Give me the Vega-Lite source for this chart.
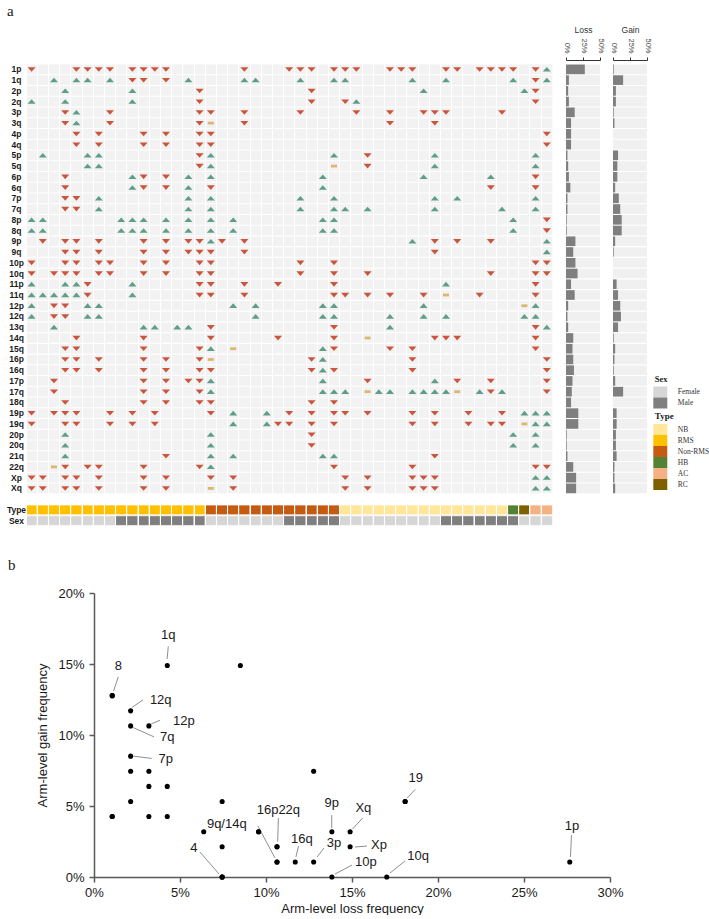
{
  "$schema": "https://vega.github.io/schema/vega-lite/v6.json",
  "padding": {"left": 6, "top": 4, "right": 0, "bottom": 0},
  "config": {
    "view": {"stroke": null},
    "font": "Liberation Sans",
    "legend": {
      "symbolType": "M-1.27,-1H1.27V1H-1.27Z",
      "symbolSize": 121,
      "symbolStrokeWidth": 0,
      "symbolOpacity": 1,
      "labelFont": "Liberation Serif",
      "labelFontSize": 7.5,
      "labelColor": "#333333",
      "titleFont": "Liberation Serif",
      "titleFontSize": 8.5,
      "titleFontWeight": "bold",
      "titleColor": "#1a1a1a",
      "rowPadding": 0,
      "labelOffset": 12,
      "titlePadding": 3,
      "padding": 0
    }
  },
  "datasets": {
    "armFreq": [
      {"arm":"1p","loss":0.2766,"gain":0.0106},
      {"arm":"1q","loss":0.0426,"gain":0.1489},
      {"arm":"2p","loss":0.0319,"gain":0.0426},
      {"arm":"2q","loss":0.0426,"gain":0.0426},
      {"arm":"3p","loss":0.1277,"gain":0.0106},
      {"arm":"3q","loss":0.0745,"gain":0.0213},
      {"arm":"4p","loss":0.0745,"gain":0},
      {"arm":"4q","loss":0.0745,"gain":0},
      {"arm":"5p","loss":0.0213,"gain":0.0745},
      {"arm":"5q","loss":0.0319,"gain":0.0638},
      {"arm":"6p","loss":0.0426,"gain":0.0638},
      {"arm":"6q","loss":0.0638,"gain":0.0319},
      {"arm":"7p","loss":0.0213,"gain":0.0851},
      {"arm":"7q","loss":0.0213,"gain":0.1064},
      {"arm":"8p","loss":0.0106,"gain":0.1277},
      {"arm":"8q","loss":0.0106,"gain":0.1277},
      {"arm":"9p","loss":0.1383,"gain":0.0319},
      {"arm":"9q","loss":0.1064,"gain":0.0106},
      {"arm":"10p","loss":0.1383,"gain":0},
      {"arm":"10q","loss":0.1702,"gain":0},
      {"arm":"11p","loss":0.0745,"gain":0.0532},
      {"arm":"11q","loss":0.1277,"gain":0.0745},
      {"arm":"12p","loss":0.0319,"gain":0.1064},
      {"arm":"12q","loss":0.0213,"gain":0.1170},
      {"arm":"13q","loss":0.0319,"gain":0.0745},
      {"arm":"14q","loss":0.1064,"gain":0.0106},
      {"arm":"15q","loss":0.0957,"gain":0.0319},
      {"arm":"16p","loss":0.1064,"gain":0.0213},
      {"arm":"16q","loss":0.1170,"gain":0.0106},
      {"arm":"17p","loss":0.0957,"gain":0.0319},
      {"arm":"17q","loss":0.0851,"gain":0.1489},
      {"arm":"18q","loss":0.0745,"gain":0},
      {"arm":"19p","loss":0.1809,"gain":0.0532},
      {"arm":"19q","loss":0.1809,"gain":0.0532},
      {"arm":"20p","loss":0.0106,"gain":0.0426},
      {"arm":"20q","loss":0.0106,"gain":0.0426},
      {"arm":"21q","loss":0.0213,"gain":0.0532},
      {"arm":"22q","loss":0.1064,"gain":0.0213},
      {"arm":"Xp","loss":0.1489,"gain":0.0213},
      {"arm":"Xq","loss":0.1489,"gain":0.0319}
    ],
    "tracks": [
      {"sample":0,"track":"Type","group":"RMS"},{"sample":1,"track":"Type","group":"RMS"},{"sample":2,"track":"Type","group":"RMS"},{"sample":3,"track":"Type","group":"RMS"},
      {"sample":4,"track":"Type","group":"RMS"},{"sample":5,"track":"Type","group":"RMS"},{"sample":6,"track":"Type","group":"RMS"},{"sample":7,"track":"Type","group":"RMS"},
      {"sample":8,"track":"Type","group":"RMS"},{"sample":9,"track":"Type","group":"RMS"},{"sample":10,"track":"Type","group":"RMS"},{"sample":11,"track":"Type","group":"RMS"},
      {"sample":12,"track":"Type","group":"RMS"},{"sample":13,"track":"Type","group":"RMS"},{"sample":14,"track":"Type","group":"RMS"},{"sample":15,"track":"Type","group":"RMS"},
      {"sample":16,"track":"Type","group":"Non-RMS"},{"sample":17,"track":"Type","group":"Non-RMS"},{"sample":18,"track":"Type","group":"Non-RMS"},{"sample":19,"track":"Type","group":"Non-RMS"},
      {"sample":20,"track":"Type","group":"Non-RMS"},{"sample":21,"track":"Type","group":"Non-RMS"},{"sample":22,"track":"Type","group":"Non-RMS"},{"sample":23,"track":"Type","group":"Non-RMS"},
      {"sample":24,"track":"Type","group":"Non-RMS"},{"sample":25,"track":"Type","group":"Non-RMS"},{"sample":26,"track":"Type","group":"Non-RMS"},{"sample":27,"track":"Type","group":"Non-RMS"},
      {"sample":28,"track":"Type","group":"NB"},{"sample":29,"track":"Type","group":"NB"},{"sample":30,"track":"Type","group":"NB"},{"sample":31,"track":"Type","group":"NB"},
      {"sample":32,"track":"Type","group":"NB"},{"sample":33,"track":"Type","group":"NB"},{"sample":34,"track":"Type","group":"NB"},{"sample":35,"track":"Type","group":"NB"},
      {"sample":36,"track":"Type","group":"NB"},{"sample":37,"track":"Type","group":"NB"},{"sample":38,"track":"Type","group":"NB"},{"sample":39,"track":"Type","group":"NB"},
      {"sample":40,"track":"Type","group":"NB"},{"sample":41,"track":"Type","group":"NB"},{"sample":42,"track":"Type","group":"NB"},{"sample":43,"track":"Type","group":"HB"},
      {"sample":44,"track":"Type","group":"RC"},{"sample":45,"track":"Type","group":"AC"},{"sample":46,"track":"Type","group":"AC"},
      {"sample":0,"track":"Sex","group":"Female"},{"sample":1,"track":"Sex","group":"Female"},{"sample":2,"track":"Sex","group":"Female"},{"sample":3,"track":"Sex","group":"Female"},
      {"sample":4,"track":"Sex","group":"Female"},{"sample":5,"track":"Sex","group":"Female"},{"sample":6,"track":"Sex","group":"Female"},{"sample":7,"track":"Sex","group":"Female"},
      {"sample":8,"track":"Sex","group":"Male"},{"sample":9,"track":"Sex","group":"Male"},{"sample":10,"track":"Sex","group":"Male"},{"sample":11,"track":"Sex","group":"Male"},
      {"sample":12,"track":"Sex","group":"Male"},{"sample":13,"track":"Sex","group":"Male"},{"sample":14,"track":"Sex","group":"Male"},{"sample":15,"track":"Sex","group":"Male"},
      {"sample":16,"track":"Sex","group":"Female"},{"sample":17,"track":"Sex","group":"Female"},{"sample":18,"track":"Sex","group":"Female"},{"sample":19,"track":"Sex","group":"Female"},
      {"sample":20,"track":"Sex","group":"Female"},{"sample":21,"track":"Sex","group":"Female"},{"sample":22,"track":"Sex","group":"Female"},{"sample":23,"track":"Sex","group":"Male"},
      {"sample":24,"track":"Sex","group":"Male"},{"sample":25,"track":"Sex","group":"Male"},{"sample":26,"track":"Sex","group":"Male"},{"sample":27,"track":"Sex","group":"Male"},
      {"sample":28,"track":"Sex","group":"Female"},{"sample":29,"track":"Sex","group":"Female"},{"sample":30,"track":"Sex","group":"Female"},{"sample":31,"track":"Sex","group":"Female"},
      {"sample":32,"track":"Sex","group":"Female"},{"sample":33,"track":"Sex","group":"Female"},{"sample":34,"track":"Sex","group":"Female"},{"sample":35,"track":"Sex","group":"Female"},
      {"sample":36,"track":"Sex","group":"Female"},{"sample":37,"track":"Sex","group":"Male"},{"sample":38,"track":"Sex","group":"Male"},{"sample":39,"track":"Sex","group":"Male"},
      {"sample":40,"track":"Sex","group":"Male"},{"sample":41,"track":"Sex","group":"Male"},{"sample":42,"track":"Sex","group":"Male"},{"sample":43,"track":"Sex","group":"Male"},
      {"sample":44,"track":"Sex","group":"Female"},{"sample":45,"track":"Sex","group":"Female"},{"sample":46,"track":"Sex","group":"Female"}
    ],
    "calls": [
      {"sample":0,"arm":"1p","call":"loss"},{"sample":4,"arm":"1p","call":"loss"},{"sample":5,"arm":"1p","call":"loss"},{"sample":6,"arm":"1p","call":"loss"},{"sample":7,"arm":"1p","call":"loss"},{"sample":9,"arm":"1p","call":"loss"},{"sample":10,"arm":"1p","call":"loss"},{"sample":11,"arm":"1p","call":"loss"},{"sample":12,"arm":"1p","call":"loss"},{"sample":19,"arm":"1p","call":"loss"},{"sample":23,"arm":"1p","call":"loss"},{"sample":24,"arm":"1p","call":"loss"},{"sample":25,"arm":"1p","call":"loss"},{"sample":27,"arm":"1p","call":"loss"},{"sample":28,"arm":"1p","call":"loss"},{"sample":29,"arm":"1p","call":"loss"},{"sample":32,"arm":"1p","call":"loss"},{"sample":33,"arm":"1p","call":"loss"},{"sample":34,"arm":"1p","call":"loss"},{"sample":37,"arm":"1p","call":"loss"},{"sample":38,"arm":"1p","call":"loss"},{"sample":40,"arm":"1p","call":"loss"},{"sample":41,"arm":"1p","call":"loss"},{"sample":42,"arm":"1p","call":"loss"},{"sample":43,"arm":"1p","call":"loss"},{"sample":45,"arm":"1p","call":"loss"},{"sample":46,"arm":"1p","call":"gain"},
      {"sample":9,"arm":"1q","call":"loss"},{"sample":10,"arm":"1q","call":"loss"},{"sample":12,"arm":"1q","call":"loss"},{"sample":45,"arm":"1q","call":"loss"},{"sample":2,"arm":"1q","call":"gain"},{"sample":4,"arm":"1q","call":"gain"},{"sample":5,"arm":"1q","call":"gain"},{"sample":7,"arm":"1q","call":"gain"},{"sample":14,"arm":"1q","call":"gain"},{"sample":19,"arm":"1q","call":"gain"},{"sample":20,"arm":"1q","call":"gain"},{"sample":24,"arm":"1q","call":"gain"},{"sample":27,"arm":"1q","call":"gain"},{"sample":28,"arm":"1q","call":"gain"},{"sample":34,"arm":"1q","call":"gain"},{"sample":37,"arm":"1q","call":"gain"},{"sample":43,"arm":"1q","call":"gain"},{"sample":46,"arm":"1q","call":"gain"},
      {"sample":15,"arm":"2p","call":"loss"},{"sample":25,"arm":"2p","call":"loss"},{"sample":45,"arm":"2p","call":"loss"},{"sample":3,"arm":"2p","call":"gain"},{"sample":9,"arm":"2p","call":"gain"},{"sample":35,"arm":"2p","call":"gain"},{"sample":44,"arm":"2p","call":"gain"},
      {"sample":15,"arm":"2q","call":"loss"},{"sample":25,"arm":"2q","call":"loss"},{"sample":28,"arm":"2q","call":"loss"},{"sample":45,"arm":"2q","call":"loss"},{"sample":0,"arm":"2q","call":"gain"},{"sample":3,"arm":"2q","call":"gain"},{"sample":9,"arm":"2q","call":"gain"},{"sample":29,"arm":"2q","call":"gain"},
      {"sample":3,"arm":"3p","call":"loss"},{"sample":7,"arm":"3p","call":"loss"},{"sample":15,"arm":"3p","call":"loss"},{"sample":16,"arm":"3p","call":"loss"},{"sample":19,"arm":"3p","call":"loss"},{"sample":24,"arm":"3p","call":"loss"},{"sample":29,"arm":"3p","call":"loss"},{"sample":32,"arm":"3p","call":"loss"},{"sample":35,"arm":"3p","call":"loss"},{"sample":36,"arm":"3p","call":"loss"},{"sample":37,"arm":"3p","call":"loss"},{"sample":42,"arm":"3p","call":"loss"},{"sample":4,"arm":"3p","call":"gain"},
      {"sample":3,"arm":"3q","call":"loss"},{"sample":7,"arm":"3q","call":"loss"},{"sample":15,"arm":"3q","call":"loss"},{"sample":19,"arm":"3q","call":"loss"},{"sample":32,"arm":"3q","call":"loss"},{"sample":36,"arm":"3q","call":"loss"},{"sample":4,"arm":"3q","call":"gain"},{"sample":16,"arm":"3q","call":"both"},
      {"sample":4,"arm":"4p","call":"loss"},{"sample":6,"arm":"4p","call":"loss"},{"sample":10,"arm":"4p","call":"loss"},{"sample":12,"arm":"4p","call":"loss"},{"sample":15,"arm":"4p","call":"loss"},{"sample":16,"arm":"4p","call":"loss"},{"sample":46,"arm":"4p","call":"loss"},
      {"sample":4,"arm":"4q","call":"loss"},{"sample":6,"arm":"4q","call":"loss"},{"sample":10,"arm":"4q","call":"loss"},{"sample":12,"arm":"4q","call":"loss"},{"sample":15,"arm":"4q","call":"loss"},{"sample":16,"arm":"4q","call":"loss"},{"sample":46,"arm":"4q","call":"loss"},
      {"sample":15,"arm":"5p","call":"loss"},{"sample":30,"arm":"5p","call":"loss"},{"sample":1,"arm":"5p","call":"gain"},{"sample":5,"arm":"5p","call":"gain"},{"sample":6,"arm":"5p","call":"gain"},{"sample":16,"arm":"5p","call":"gain"},{"sample":27,"arm":"5p","call":"gain"},{"sample":36,"arm":"5p","call":"gain"},{"sample":45,"arm":"5p","call":"gain"},
      {"sample":15,"arm":"5q","call":"loss"},{"sample":30,"arm":"5q","call":"loss"},{"sample":5,"arm":"5q","call":"gain"},{"sample":6,"arm":"5q","call":"gain"},{"sample":16,"arm":"5q","call":"gain"},{"sample":36,"arm":"5q","call":"gain"},{"sample":45,"arm":"5q","call":"gain"},{"sample":27,"arm":"5q","call":"both"},
      {"sample":3,"arm":"6p","call":"loss"},{"sample":10,"arm":"6p","call":"loss"},{"sample":12,"arm":"6p","call":"loss"},{"sample":45,"arm":"6p","call":"loss"},{"sample":9,"arm":"6p","call":"gain"},{"sample":14,"arm":"6p","call":"gain"},{"sample":16,"arm":"6p","call":"gain"},{"sample":26,"arm":"6p","call":"gain"},{"sample":35,"arm":"6p","call":"gain"},{"sample":41,"arm":"6p","call":"gain"},
      {"sample":3,"arm":"6q","call":"loss"},{"sample":10,"arm":"6q","call":"loss"},{"sample":12,"arm":"6q","call":"loss"},{"sample":16,"arm":"6q","call":"loss"},{"sample":41,"arm":"6q","call":"loss"},{"sample":45,"arm":"6q","call":"loss"},{"sample":9,"arm":"6q","call":"gain"},{"sample":14,"arm":"6q","call":"gain"},{"sample":26,"arm":"6q","call":"gain"},
      {"sample":3,"arm":"7p","call":"loss"},{"sample":4,"arm":"7p","call":"loss"},{"sample":6,"arm":"7p","call":"gain"},{"sample":14,"arm":"7p","call":"gain"},{"sample":16,"arm":"7p","call":"gain"},{"sample":24,"arm":"7p","call":"gain"},{"sample":27,"arm":"7p","call":"gain"},{"sample":36,"arm":"7p","call":"gain"},{"sample":38,"arm":"7p","call":"gain"},{"sample":45,"arm":"7p","call":"gain"},
      {"sample":3,"arm":"7q","call":"loss"},{"sample":4,"arm":"7q","call":"loss"},{"sample":6,"arm":"7q","call":"gain"},{"sample":14,"arm":"7q","call":"gain"},{"sample":16,"arm":"7q","call":"gain"},{"sample":24,"arm":"7q","call":"gain"},{"sample":27,"arm":"7q","call":"gain"},{"sample":28,"arm":"7q","call":"gain"},{"sample":30,"arm":"7q","call":"gain"},{"sample":36,"arm":"7q","call":"gain"},{"sample":42,"arm":"7q","call":"gain"},{"sample":45,"arm":"7q","call":"gain"},
      {"sample":46,"arm":"8p","call":"loss"},{"sample":0,"arm":"8p","call":"gain"},{"sample":1,"arm":"8p","call":"gain"},{"sample":8,"arm":"8p","call":"gain"},{"sample":9,"arm":"8p","call":"gain"},{"sample":10,"arm":"8p","call":"gain"},{"sample":12,"arm":"8p","call":"gain"},{"sample":14,"arm":"8p","call":"gain"},{"sample":16,"arm":"8p","call":"gain"},{"sample":18,"arm":"8p","call":"gain"},{"sample":26,"arm":"8p","call":"gain"},{"sample":27,"arm":"8p","call":"gain"},{"sample":43,"arm":"8p","call":"gain"},
      {"sample":46,"arm":"8q","call":"loss"},{"sample":0,"arm":"8q","call":"gain"},{"sample":1,"arm":"8q","call":"gain"},{"sample":8,"arm":"8q","call":"gain"},{"sample":9,"arm":"8q","call":"gain"},{"sample":10,"arm":"8q","call":"gain"},{"sample":12,"arm":"8q","call":"gain"},{"sample":14,"arm":"8q","call":"gain"},{"sample":16,"arm":"8q","call":"gain"},{"sample":18,"arm":"8q","call":"gain"},{"sample":26,"arm":"8q","call":"gain"},{"sample":27,"arm":"8q","call":"gain"},{"sample":43,"arm":"8q","call":"gain"},
      {"sample":1,"arm":"9p","call":"loss"},{"sample":3,"arm":"9p","call":"loss"},{"sample":4,"arm":"9p","call":"loss"},{"sample":6,"arm":"9p","call":"loss"},{"sample":10,"arm":"9p","call":"loss"},{"sample":12,"arm":"9p","call":"loss"},{"sample":14,"arm":"9p","call":"loss"},{"sample":15,"arm":"9p","call":"loss"},{"sample":17,"arm":"9p","call":"loss"},{"sample":19,"arm":"9p","call":"loss"},{"sample":36,"arm":"9p","call":"loss"},{"sample":38,"arm":"9p","call":"loss"},{"sample":41,"arm":"9p","call":"loss"},{"sample":16,"arm":"9p","call":"gain"},{"sample":34,"arm":"9p","call":"gain"},{"sample":46,"arm":"9p","call":"gain"},
      {"sample":3,"arm":"9q","call":"loss"},{"sample":4,"arm":"9q","call":"loss"},{"sample":6,"arm":"9q","call":"loss"},{"sample":10,"arm":"9q","call":"loss"},{"sample":12,"arm":"9q","call":"loss"},{"sample":14,"arm":"9q","call":"loss"},{"sample":15,"arm":"9q","call":"loss"},{"sample":16,"arm":"9q","call":"loss"},{"sample":19,"arm":"9q","call":"loss"},{"sample":36,"arm":"9q","call":"loss"},{"sample":46,"arm":"9q","call":"gain"},
      {"sample":0,"arm":"10p","call":"loss"},{"sample":3,"arm":"10p","call":"loss"},{"sample":4,"arm":"10p","call":"loss"},{"sample":6,"arm":"10p","call":"loss"},{"sample":7,"arm":"10p","call":"loss"},{"sample":10,"arm":"10p","call":"loss"},{"sample":12,"arm":"10p","call":"loss"},{"sample":15,"arm":"10p","call":"loss"},{"sample":16,"arm":"10p","call":"loss"},{"sample":24,"arm":"10p","call":"loss"},{"sample":27,"arm":"10p","call":"loss"},{"sample":45,"arm":"10p","call":"loss"},{"sample":46,"arm":"10p","call":"loss"},
      {"sample":0,"arm":"10q","call":"loss"},{"sample":2,"arm":"10q","call":"loss"},{"sample":3,"arm":"10q","call":"loss"},{"sample":4,"arm":"10q","call":"loss"},{"sample":6,"arm":"10q","call":"loss"},{"sample":7,"arm":"10q","call":"loss"},{"sample":10,"arm":"10q","call":"loss"},{"sample":12,"arm":"10q","call":"loss"},{"sample":15,"arm":"10q","call":"loss"},{"sample":16,"arm":"10q","call":"loss"},{"sample":24,"arm":"10q","call":"loss"},{"sample":27,"arm":"10q","call":"loss"},{"sample":30,"arm":"10q","call":"loss"},{"sample":41,"arm":"10q","call":"loss"},{"sample":45,"arm":"10q","call":"loss"},{"sample":46,"arm":"10q","call":"loss"},
      {"sample":5,"arm":"11p","call":"loss"},{"sample":15,"arm":"11p","call":"loss"},{"sample":16,"arm":"11p","call":"loss"},{"sample":19,"arm":"11p","call":"loss"},{"sample":22,"arm":"11p","call":"loss"},{"sample":27,"arm":"11p","call":"loss"},{"sample":45,"arm":"11p","call":"loss"},{"sample":0,"arm":"11p","call":"gain"},{"sample":3,"arm":"11p","call":"gain"},{"sample":4,"arm":"11p","call":"gain"},{"sample":9,"arm":"11p","call":"gain"},{"sample":37,"arm":"11p","call":"gain"},
      {"sample":5,"arm":"11q","call":"loss"},{"sample":15,"arm":"11q","call":"loss"},{"sample":16,"arm":"11q","call":"loss"},{"sample":19,"arm":"11q","call":"loss"},{"sample":27,"arm":"11q","call":"loss"},{"sample":28,"arm":"11q","call":"loss"},{"sample":30,"arm":"11q","call":"loss"},{"sample":32,"arm":"11q","call":"loss"},{"sample":35,"arm":"11q","call":"loss"},{"sample":40,"arm":"11q","call":"loss"},{"sample":45,"arm":"11q","call":"loss"},{"sample":0,"arm":"11q","call":"gain"},{"sample":1,"arm":"11q","call":"gain"},{"sample":2,"arm":"11q","call":"gain"},{"sample":3,"arm":"11q","call":"gain"},{"sample":4,"arm":"11q","call":"gain"},{"sample":9,"arm":"11q","call":"gain"},{"sample":37,"arm":"11q","call":"both"},
      {"sample":2,"arm":"12p","call":"loss"},{"sample":3,"arm":"12p","call":"loss"},{"sample":0,"arm":"12p","call":"gain"},{"sample":5,"arm":"12p","call":"gain"},{"sample":6,"arm":"12p","call":"gain"},{"sample":18,"arm":"12p","call":"gain"},{"sample":20,"arm":"12p","call":"gain"},{"sample":26,"arm":"12p","call":"gain"},{"sample":27,"arm":"12p","call":"gain"},{"sample":35,"arm":"12p","call":"gain"},{"sample":45,"arm":"12p","call":"gain"},{"sample":44,"arm":"12p","call":"both"},
      {"sample":2,"arm":"12q","call":"loss"},{"sample":3,"arm":"12q","call":"loss"},{"sample":0,"arm":"12q","call":"gain"},{"sample":5,"arm":"12q","call":"gain"},{"sample":6,"arm":"12q","call":"gain"},{"sample":20,"arm":"12q","call":"gain"},{"sample":26,"arm":"12q","call":"gain"},{"sample":27,"arm":"12q","call":"gain"},{"sample":32,"arm":"12q","call":"gain"},{"sample":35,"arm":"12q","call":"gain"},{"sample":37,"arm":"12q","call":"gain"},{"sample":44,"arm":"12q","call":"gain"},{"sample":45,"arm":"12q","call":"gain"},
      {"sample":16,"arm":"13q","call":"loss"},{"sample":27,"arm":"13q","call":"loss"},{"sample":45,"arm":"13q","call":"loss"},{"sample":2,"arm":"13q","call":"gain"},{"sample":10,"arm":"13q","call":"gain"},{"sample":11,"arm":"13q","call":"gain"},{"sample":13,"arm":"13q","call":"gain"},{"sample":14,"arm":"13q","call":"gain"},{"sample":32,"arm":"13q","call":"gain"},{"sample":46,"arm":"13q","call":"gain"},
      {"sample":4,"arm":"14q","call":"loss"},{"sample":10,"arm":"14q","call":"loss"},{"sample":16,"arm":"14q","call":"loss"},{"sample":22,"arm":"14q","call":"loss"},{"sample":27,"arm":"14q","call":"loss"},{"sample":36,"arm":"14q","call":"loss"},{"sample":37,"arm":"14q","call":"loss"},{"sample":38,"arm":"14q","call":"loss"},{"sample":45,"arm":"14q","call":"loss"},{"sample":30,"arm":"14q","call":"both"},
      {"sample":3,"arm":"15q","call":"loss"},{"sample":4,"arm":"15q","call":"loss"},{"sample":10,"arm":"15q","call":"loss"},{"sample":15,"arm":"15q","call":"loss"},{"sample":27,"arm":"15q","call":"loss"},{"sample":32,"arm":"15q","call":"loss"},{"sample":34,"arm":"15q","call":"loss"},{"sample":45,"arm":"15q","call":"loss"},{"sample":16,"arm":"15q","call":"gain"},{"sample":26,"arm":"15q","call":"gain"},{"sample":18,"arm":"15q","call":"both"},
      {"sample":3,"arm":"16p","call":"loss"},{"sample":4,"arm":"16p","call":"loss"},{"sample":6,"arm":"16p","call":"loss"},{"sample":10,"arm":"16p","call":"loss"},{"sample":12,"arm":"16p","call":"loss"},{"sample":15,"arm":"16p","call":"loss"},{"sample":25,"arm":"16p","call":"loss"},{"sample":34,"arm":"16p","call":"loss"},{"sample":46,"arm":"16p","call":"loss"},{"sample":26,"arm":"16p","call":"gain"},{"sample":16,"arm":"16p","call":"both"},
      {"sample":3,"arm":"16q","call":"loss"},{"sample":4,"arm":"16q","call":"loss"},{"sample":6,"arm":"16q","call":"loss"},{"sample":10,"arm":"16q","call":"loss"},{"sample":12,"arm":"16q","call":"loss"},{"sample":15,"arm":"16q","call":"loss"},{"sample":16,"arm":"16q","call":"loss"},{"sample":25,"arm":"16q","call":"loss"},{"sample":27,"arm":"16q","call":"loss"},{"sample":34,"arm":"16q","call":"loss"},{"sample":46,"arm":"16q","call":"loss"},{"sample":26,"arm":"16q","call":"gain"},
      {"sample":2,"arm":"17p","call":"loss"},{"sample":10,"arm":"17p","call":"loss"},{"sample":12,"arm":"17p","call":"loss"},{"sample":14,"arm":"17p","call":"loss"},{"sample":15,"arm":"17p","call":"loss"},{"sample":30,"arm":"17p","call":"loss"},{"sample":38,"arm":"17p","call":"loss"},{"sample":41,"arm":"17p","call":"loss"},{"sample":46,"arm":"17p","call":"loss"},{"sample":16,"arm":"17p","call":"gain"},{"sample":26,"arm":"17p","call":"gain"},{"sample":36,"arm":"17p","call":"gain"},
      {"sample":2,"arm":"17q","call":"loss"},{"sample":10,"arm":"17q","call":"loss"},{"sample":12,"arm":"17q","call":"loss"},{"sample":15,"arm":"17q","call":"loss"},{"sample":41,"arm":"17q","call":"loss"},{"sample":46,"arm":"17q","call":"loss"},{"sample":16,"arm":"17q","call":"gain"},{"sample":26,"arm":"17q","call":"gain"},{"sample":27,"arm":"17q","call":"gain"},{"sample":28,"arm":"17q","call":"gain"},{"sample":31,"arm":"17q","call":"gain"},{"sample":32,"arm":"17q","call":"gain"},{"sample":34,"arm":"17q","call":"gain"},{"sample":35,"arm":"17q","call":"gain"},{"sample":36,"arm":"17q","call":"gain"},{"sample":37,"arm":"17q","call":"gain"},{"sample":40,"arm":"17q","call":"gain"},{"sample":42,"arm":"17q","call":"gain"},{"sample":30,"arm":"17q","call":"both"},{"sample":38,"arm":"17q","call":"both"},
      {"sample":3,"arm":"18q","call":"loss"},{"sample":10,"arm":"18q","call":"loss"},{"sample":12,"arm":"18q","call":"loss"},{"sample":15,"arm":"18q","call":"loss"},{"sample":16,"arm":"18q","call":"loss"},{"sample":25,"arm":"18q","call":"loss"},{"sample":27,"arm":"18q","call":"loss"},
      {"sample":0,"arm":"19p","call":"loss"},{"sample":2,"arm":"19p","call":"loss"},{"sample":3,"arm":"19p","call":"loss"},{"sample":4,"arm":"19p","call":"loss"},{"sample":7,"arm":"19p","call":"loss"},{"sample":9,"arm":"19p","call":"loss"},{"sample":11,"arm":"19p","call":"loss"},{"sample":16,"arm":"19p","call":"loss"},{"sample":23,"arm":"19p","call":"loss"},{"sample":25,"arm":"19p","call":"loss"},{"sample":27,"arm":"19p","call":"loss"},{"sample":28,"arm":"19p","call":"loss"},{"sample":30,"arm":"19p","call":"loss"},{"sample":34,"arm":"19p","call":"loss"},{"sample":36,"arm":"19p","call":"loss"},{"sample":39,"arm":"19p","call":"loss"},{"sample":42,"arm":"19p","call":"loss"},{"sample":18,"arm":"19p","call":"gain"},{"sample":21,"arm":"19p","call":"gain"},{"sample":44,"arm":"19p","call":"gain"},{"sample":45,"arm":"19p","call":"gain"},{"sample":46,"arm":"19p","call":"gain"},
      {"sample":0,"arm":"19q","call":"loss"},{"sample":3,"arm":"19q","call":"loss"},{"sample":4,"arm":"19q","call":"loss"},{"sample":7,"arm":"19q","call":"loss"},{"sample":9,"arm":"19q","call":"loss"},{"sample":11,"arm":"19q","call":"loss"},{"sample":22,"arm":"19q","call":"loss"},{"sample":23,"arm":"19q","call":"loss"},{"sample":25,"arm":"19q","call":"loss"},{"sample":27,"arm":"19q","call":"loss"},{"sample":34,"arm":"19q","call":"loss"},{"sample":36,"arm":"19q","call":"loss"},{"sample":39,"arm":"19q","call":"loss"},{"sample":41,"arm":"19q","call":"loss"},{"sample":42,"arm":"19q","call":"loss"},{"sample":18,"arm":"19q","call":"gain"},{"sample":21,"arm":"19q","call":"gain"},{"sample":45,"arm":"19q","call":"gain"},{"sample":46,"arm":"19q","call":"gain"},{"sample":44,"arm":"19q","call":"both"},
      {"sample":25,"arm":"20p","call":"loss"},{"sample":3,"arm":"20p","call":"gain"},{"sample":16,"arm":"20p","call":"gain"},{"sample":43,"arm":"20p","call":"gain"},{"sample":45,"arm":"20p","call":"gain"},
      {"sample":25,"arm":"20q","call":"loss"},{"sample":3,"arm":"20q","call":"gain"},{"sample":16,"arm":"20q","call":"gain"},{"sample":43,"arm":"20q","call":"gain"},{"sample":45,"arm":"20q","call":"gain"},
      {"sample":12,"arm":"21q","call":"loss"},{"sample":36,"arm":"21q","call":"loss"},{"sample":3,"arm":"21q","call":"gain"},{"sample":16,"arm":"21q","call":"gain"},{"sample":18,"arm":"21q","call":"gain"},{"sample":26,"arm":"21q","call":"gain"},{"sample":27,"arm":"21q","call":"gain"},
      {"sample":3,"arm":"22q","call":"loss"},{"sample":5,"arm":"22q","call":"loss"},{"sample":6,"arm":"22q","call":"loss"},{"sample":10,"arm":"22q","call":"loss"},{"sample":15,"arm":"22q","call":"loss"},{"sample":27,"arm":"22q","call":"loss"},{"sample":34,"arm":"22q","call":"loss"},{"sample":45,"arm":"22q","call":"loss"},{"sample":46,"arm":"22q","call":"loss"},{"sample":16,"arm":"22q","call":"gain"},{"sample":2,"arm":"22q","call":"both"},
      {"sample":0,"arm":"Xp","call":"loss"},{"sample":1,"arm":"Xp","call":"loss"},{"sample":3,"arm":"Xp","call":"loss"},{"sample":4,"arm":"Xp","call":"loss"},{"sample":6,"arm":"Xp","call":"loss"},{"sample":10,"arm":"Xp","call":"loss"},{"sample":12,"arm":"Xp","call":"loss"},{"sample":16,"arm":"Xp","call":"loss"},{"sample":18,"arm":"Xp","call":"loss"},{"sample":28,"arm":"Xp","call":"loss"},{"sample":30,"arm":"Xp","call":"loss"},{"sample":34,"arm":"Xp","call":"loss"},{"sample":35,"arm":"Xp","call":"loss"},{"sample":36,"arm":"Xp","call":"loss"},{"sample":45,"arm":"Xp","call":"gain"},{"sample":46,"arm":"Xp","call":"gain"},
      {"sample":0,"arm":"Xq","call":"loss"},{"sample":1,"arm":"Xq","call":"loss"},{"sample":3,"arm":"Xq","call":"loss"},{"sample":4,"arm":"Xq","call":"loss"},{"sample":6,"arm":"Xq","call":"loss"},{"sample":10,"arm":"Xq","call":"loss"},{"sample":12,"arm":"Xq","call":"loss"},{"sample":18,"arm":"Xq","call":"loss"},{"sample":28,"arm":"Xq","call":"loss"},{"sample":30,"arm":"Xq","call":"loss"},{"sample":34,"arm":"Xq","call":"loss"},{"sample":35,"arm":"Xq","call":"loss"},{"sample":36,"arm":"Xq","call":"loss"},{"sample":45,"arm":"Xq","call":"gain"},{"sample":46,"arm":"Xq","call":"gain"},{"sample":16,"arm":"Xq","call":"both"}
    ],
    "repel": [
      {"text":"1q","textLoss":0.0432,"textGain":0.1702,"fromLoss":0.0432,"fromGain":0.1624,"toLoss":0.0425,"toGain":0.1535},
      {"text":"8","textLoss":0.0141,"textGain":0.1484,"fromLoss":0.0141,"fromGain":0.1409,"toLoss":0.0114,"toGain":0.1310},
      {"text":"12q","textLoss":0.0388,"textGain":0.1245,"fromLoss":0.0285,"fromGain":0.1248,"toLoss":0.0222,"toGain":0.1195},
      {"text":"12p","textLoss":0.0523,"textGain":0.1099,"fromLoss":0.0384,"fromGain":0.1104,"toLoss":0.0332,"toGain":0.1078},
      {"text":"7q","textLoss":0.0426,"textGain":0.0987,"fromLoss":0.0349,"fromGain":0.0987,"toLoss":0.0228,"toGain":0.1052},
      {"text":"7p","textLoss":0.0417,"textGain":0.0830,"fromLoss":0.0335,"fromGain":0.0835,"toLoss":0.0230,"toGain":0.0851},
      {"text":"16p22q","textLoss":0.1072,"textGain":0.0471,"fromLoss":0.1072,"fromGain":0.0415,"toLoss":0.1068,"toGain":0.0250},
      {"text":"9q/14q","textLoss":0.0772,"textGain":0.0371,"fromLoss":0.0953,"fromGain":0.0359,"toLoss":0.1052,"toGain":0.0135},
      {"text":"9p","textLoss":0.1382,"textGain":0.0518,"fromLoss":0.1382,"fromGain":0.0436,"toLoss":0.1382,"toGain":0.0345},
      {"text":"Xq","textLoss":0.1566,"textGain":0.0487,"fromLoss":0.1562,"fromGain":0.0415,"toLoss":0.1503,"toGain":0.0338},
      {"text":"19","textLoss":0.1870,"textGain":0.0694,"fromLoss":0.1868,"fromGain":0.0617,"toLoss":0.1820,"toGain":0.0555},
      {"text":"16q","textLoss":0.1209,"textGain":0.0267,"fromLoss":0.1189,"fromGain":0.0218,"toLoss":0.1174,"toGain":0.0141},
      {"text":"3p","textLoss":0.1395,"textGain":0.0239,"fromLoss":0.1337,"fromGain":0.0204,"toLoss":0.1297,"toGain":0.0141},
      {"text":"Xp","textLoss":0.1657,"textGain":0.0225,"fromLoss":0.1587,"fromGain":0.0218,"toLoss":0.1517,"toGain":0.0211},
      {"text":"10p","textLoss":0.1581,"textGain":0.0105,"fromLoss":0.1500,"fromGain":0.0084,"toLoss":0.1401,"toGain":0.0021},
      {"text":"10q","textLoss":0.1884,"textGain":0.0148,"fromLoss":0.1808,"fromGain":0.0113,"toLoss":0.1721,"toGain":0.0028},
      {"text":"4","textLoss":0.0581,"textGain":0.0204,"fromLoss":0.0616,"fromGain":0.0176,"toLoss":0.0727,"toGain":0.0021},
      {"text":"1p","textLoss":0.2779,"textGain":0.0359,"fromLoss":0.2776,"fromGain":0.0295,"toLoss":0.2770,"toGain":0.0141}
    ]
  },
  "bounds": "full",
  "spacing": 32,
  "vconcat": [
    {
      "bounds": "flush",
      "spacing": 13,
      "hconcat": [
        {
          "width": 526.4,
          "height": 462,
          "title": {"text": "a", "anchor": "start", "frame": "group", "dx": -19, "offset": 32.6, "baseline": "alphabetic", "font": "Liberation Serif", "fontSize": 15, "fontWeight": "normal", "color": "#1a1a1a"},
          "layer": [
            {
              "data": {"name": "armFreq"},
              "mark": {"type": "rect", "color": "#f2f2f2"},
              "encoding": {
                "y": {
                  "field": "arm", "type": "nominal",
                  "scale": {"type": "band", "domain": ["1p","1q","2p","2q","3p","3q","4p","4q","5p","5q","6p","6q","7p","7q","8p","8q","9p","9q","10p","10q","11p","11q","12p","12q","13q","14q","15q","16p","16q","17p","17q","18q","19p","19q","20p","20q","21q","22q","Xp","Xq"," ","Type","Sex"], "paddingInner": 0.1, "paddingOuter": 0.05},
                  "axis": {"orient": "left", "title": null, "ticks": false, "tickSize": 0, "domain": false, "labelPadding": 10, "labelAlign": "center", "labelFont": "Liberation Sans", "labelFontWeight": "bold", "labelFontSize": 8.5, "labelColor": "#1a1a1a", "labelOverlap": false}
                }
              }
            },
            {
              "data": {"name": "tracks"},
              "transform": [{"filter": "datum.track === 'Type'"}],
              "mark": {"type": "rect", "stroke": "white", "strokeWidth": 0.6},
              "encoding": {
                "x": {
                  "field": "sample", "type": "ordinal",
                  "scale": {"type": "band", "domain": [0,1,2,3,4,5,6,7,8,9,10,11,12,13,14,15,16,17,18,19,20,21,22,23,24,25,26,27,28,29,30,31,32,33,34,35,36,37,38,39,40,41,42,43,44,45,46], "paddingInner": 0, "paddingOuter": 0},
                  "axis": {"orient": "bottom", "bandPosition": 0, "grid": true, "gridColor": "white", "gridWidth": 1, "gridOpacity": 1, "labels": false, "ticks": false, "domain": false, "title": null, "zindex": 1}
                },
                "y": {"field": "track", "type": "nominal"},
                "color": {
                  "field": "group", "type": "nominal",
                  "scale": {"domain": ["NB","RMS","Non-RMS","HB","AC","RC"], "range": ["#FFE699","#FFC000","#C55A11","#548235","#F4B183","#7F6000"]},
                  "legend": {"orient": "none", "legendX": 628.8, "legendY": 348, "title": "Type", "symbolType": "M-1.27,-1H1.27V1H-1.27Z", "titleFontSize": 9}
                }
              }
            },
            {
              "data": {"name": "tracks"},
              "transform": [{"filter": "datum.track === 'Sex'"}],
              "mark": {"type": "rect", "stroke": "white", "strokeWidth": 0.6},
              "encoding": {
                "x": {"field": "sample", "type": "ordinal"},
                "y": {"field": "track", "type": "nominal"},
                "fill": {
                  "field": "group", "type": "nominal",
                  "scale": {"domain": ["Female","Male"], "range": ["#D6D6D6","#7F7F7F"]},
                  "legend": {"orient": "none", "legendX": 628.8, "legendY": 311, "title": "Sex", "symbolType": "M-1.27,-1H1.27V1H-1.27Z"}
                }
              }
            },
            {
              "data": {"name": "calls"},
              "transform": [{"filter": "datum.call === 'loss'"}],
              "mark": {"type": "point", "shape": "M-1,-0.55L1,-0.55L0,0.6Z", "filled": true, "color": "#C9563C", "size": 64, "opacity": 1, "strokeWidth": 0},
              "encoding": {
                "x": {"field": "sample", "type": "ordinal"},
                "y": {"field": "arm", "type": "nominal"}
              }
            },
            {
              "data": {"name": "calls"},
              "transform": [{"filter": "datum.call === 'gain'"}],
              "mark": {"type": "point", "shape": "M-1,0.55L1,0.55L0,-0.6Z", "filled": true, "color": "#5E9D87", "size": 64, "opacity": 1, "strokeWidth": 0},
              "encoding": {
                "x": {"field": "sample", "type": "ordinal"},
                "y": {"field": "arm", "type": "nominal"}
              }
            },
            {
              "data": {"name": "calls"},
              "transform": [{"filter": "datum.call === 'both'"}],
              "mark": {"type": "point", "shape": "M-0.75,-0.35H0.75V0.35H-0.75Z", "filled": true, "color": "#DDB672", "size": 64, "opacity": 1, "strokeWidth": 0},
              "encoding": {
                "x": {"field": "sample", "type": "ordinal"},
                "y": {"field": "arm", "type": "nominal"}
              }
            }
          ]
        },
        {
          "width": 34,
          "height": 429.77,
          "data": {"name": "armFreq"},
          "layer": [
            {
              "mark": {"type": "rect", "color": "#f0f0f0"},
              "encoding": {
                "y": {"field": "arm", "type": "nominal", "scale": {"type": "band", "domain": ["1p","1q","2p","2q","3p","3q","4p","4q","5p","5q","6p","6q","7p","7q","8p","8q","9p","9q","10p","10q","11p","11q","12p","12q","13q","14q","15q","16p","16q","17p","17q","18q","19p","19q","20p","20q","21q","22q","Xp","Xq"], "paddingInner": 0.1, "paddingOuter": 0.05}, "axis": null}
              }
            },
            {
              "mark": {"type": "bar", "color": "#7f7f7f"},
              "encoding": {
                "y": {"field": "arm", "type": "nominal", "axis": null},
                "x": {
                  "field": "loss", "type": "quantitative",
                  "scale": {"domain": [0, 0.5], "nice": false, "zero": true},
                  "axis": {"orient": "top", "offset": 4, "values": [0, 0.25, 0.5], "format": ".0%", "labelAngle": 90, "labelAlign": "right", "labelBaseline": "middle", "tickSize": 3, "labelPadding": 4, "domainColor": "#333333", "tickColor": "#333333", "labelFontSize": 7.5, "labelColor": "#4d4d4d", "grid": false, "title": "Loss", "titleFontSize": 8.5, "titleFontWeight": "normal", "titleColor": "#333333", "titlePadding": 3, "labelFlush": false}
                }
              }
            }
          ]
        },
        {
          "width": 34,
          "height": 429.77,
          "data": {"name": "armFreq"},
          "layer": [
            {
              "mark": {"type": "rect", "color": "#f0f0f0"},
              "encoding": {
                "y": {"field": "arm", "type": "nominal", "scale": {"type": "band", "domain": ["1p","1q","2p","2q","3p","3q","4p","4q","5p","5q","6p","6q","7p","7q","8p","8q","9p","9q","10p","10q","11p","11q","12p","12q","13q","14q","15q","16p","16q","17p","17q","18q","19p","19q","20p","20q","21q","22q","Xp","Xq"], "paddingInner": 0.1, "paddingOuter": 0.05}, "axis": null}
              }
            },
            {
              "mark": {"type": "bar", "color": "#7f7f7f"},
              "encoding": {
                "y": {"field": "arm", "type": "nominal", "axis": null},
                "x": {
                  "field": "gain", "type": "quantitative",
                  "scale": {"domain": [0, 0.5], "nice": false, "zero": true},
                  "axis": {"orient": "top", "offset": 4, "values": [0, 0.25, 0.5], "format": ".0%", "labelAngle": 90, "labelAlign": "right", "labelBaseline": "middle", "tickSize": 3, "labelPadding": 4, "domainColor": "#333333", "tickColor": "#333333", "labelFontSize": 7.5, "labelColor": "#4d4d4d", "grid": false, "title": "Gain", "titleFontSize": 8.5, "titleFontWeight": "normal", "titleColor": "#333333", "titlePadding": 3, "labelFlush": false}
                }
              }
            }
          ]
        }
      ]
    },
    {
      "bounds": "flush",
      "spacing": 13,
      "hconcat": [
        {
          "width": 55,
          "height": 10,
          "data": {"values": [{}]},
          "mark": {"type": "point", "opacity": 0}
        },
        {
          "width": 516,
          "height": 284,
          "title": {"text": "b", "anchor": "start", "frame": "group", "dx": -86, "offset": 2, "baseline": "alphabetic", "font": "Liberation Serif", "fontSize": 15, "fontWeight": "normal", "color": "#1a1a1a"},
          "layer": [
            {
              "data": {"name": "repel"},
              "mark": {"type": "rule", "color": "#8f8f8f", "strokeWidth": 1},
              "encoding": {
                "x": {
                  "field": "fromLoss", "type": "quantitative", "title": "Arm-level loss frequency",
                  "scale": {"domain": [0, 0.3], "nice": false, "zero": true},
                  "axis": {"values": [0, 0.05, 0.1, 0.15, 0.2, 0.25, 0.3], "format": ".0%", "grid": false, "domainColor": "#595959", "domainWidth": 1.5, "tickColor": "#595959", "tickWidth": 1.5, "tickSize": 5, "labelPadding": 4, "labelFont": "Liberation Sans", "labelFontSize": 13, "labelColor": "#1a1a1a", "titleFont": "Liberation Sans", "titleFontSize": 13, "titleFontWeight": "normal", "titleColor": "#1a1a1a", "titlePadding": 3, "labelFlush": false}
                },
                "y": {
                  "field": "fromGain", "type": "quantitative", "title": "Arm-level gain frequency",
                  "scale": {"domain": [0, 0.2], "nice": false, "zero": true},
                  "axis": {"values": [0, 0.05, 0.1, 0.15, 0.2], "format": ".0%", "grid": false, "domainColor": "#595959", "domainWidth": 1.5, "tickColor": "#595959", "tickWidth": 1.5, "tickSize": 5, "labelPadding": 5, "labelFont": "Liberation Sans", "labelFontSize": 13, "labelColor": "#1a1a1a", "titleFont": "Liberation Sans", "titleFontSize": 13, "titleFontWeight": "normal", "titleColor": "#1a1a1a", "titlePadding": 8, "labelFlush": false}
                },
                "x2": {"field": "toLoss"},
                "y2": {"field": "toGain"}
              }
            },
            {
              "data": {"name": "armFreq"},
              "mark": {"type": "circle", "color": "#000000", "size": 26, "opacity": 1},
              "encoding": {
                "x": {"field": "loss", "type": "quantitative", "title": "Arm-level loss frequency"},
                "y": {"field": "gain", "type": "quantitative", "title": "Arm-level gain frequency"}
              }
            },
            {
              "data": {"name": "repel"},
              "mark": {"type": "text", "font": "Liberation Sans", "fontSize": 13, "color": "#1a1a1a", "align": "center", "baseline": "middle"},
              "encoding": {
                "x": {"field": "textLoss", "type": "quantitative", "title": "Arm-level loss frequency"},
                "y": {"field": "textGain", "type": "quantitative", "title": "Arm-level gain frequency"},
                "text": {"field": "text"}
              }
            }
          ]
        }
      ]
    }
  ]
}
